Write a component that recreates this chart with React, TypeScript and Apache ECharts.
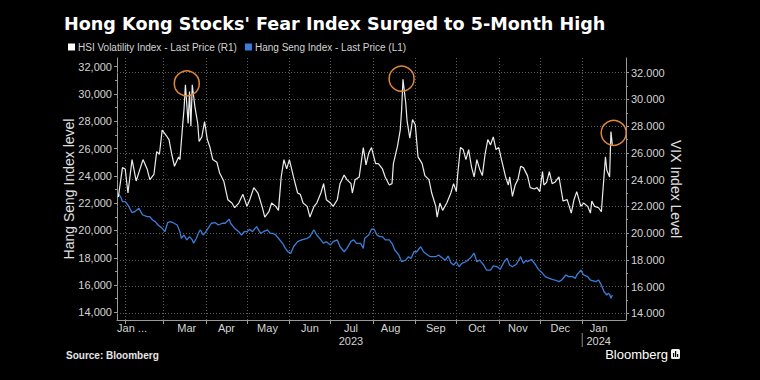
import React, { useEffect, useRef } from 'react';
import * as echarts from 'echarts';

// HSI Volatility Index (right axis)
const vhsiPoints: [string, number][] = [
  ['2023-01-27', 22.7], ['2023-01-30', 24.9], ['2023-02-01', 24.8], ['2023-02-03', 23.0], ['2023-02-06', 25.5], ['2023-02-09', 23.9], ['2023-02-14', 25.5], ['2023-02-17', 24.8], ['2023-02-19', 24.0], ['2023-02-22', 24.4], ['2023-02-24', 26.1], ['2023-02-26', 25.9], ['2023-02-28', 27.7],
  ['2023-03-03', 27.3], ['2023-03-05', 27.0], ['2023-03-07', 25.9], ['2023-03-09', 25.0], ['2023-03-12', 25.7], ['2023-03-13', 25.5], ['2023-03-15', 28.1], ['2023-03-16', 29.3], ['2023-03-17', 31.1], ['2023-03-19', 28.2], ['2023-03-20', 30.6], ['2023-03-21', 28.0], ['2023-03-22', 31.1], ['2023-03-24', 29.4], ['2023-03-26', 28.2], ['2023-03-27', 26.85], ['2023-03-29', 27.2], ['2023-03-31', 28.35],
  ['2023-04-02', 27.0], ['2023-04-04', 26.4], ['2023-04-06', 25.5], ['2023-04-09', 25.3], ['2023-04-11', 24.5], ['2023-04-14', 23.9], ['2023-04-17', 22.5], ['2023-04-20', 22.25], ['2023-04-22', 21.9], ['2023-04-25', 22.25], ['2023-04-28', 22.9],
  ['2023-05-01', 22.0], ['2023-05-03', 22.5], ['2023-05-06', 23.4], ['2023-05-09', 23.0], ['2023-05-12', 22.0], ['2023-05-14', 21.2], ['2023-05-17', 21.6], ['2023-05-19', 22.25], ['2023-05-22', 22.0], ['2023-05-24', 21.7], ['2023-05-26', 24.2], ['2023-05-28', 25.5], ['2023-05-30', 24.8],
  ['2023-06-01', 25.5], ['2023-06-04', 24.2], ['2023-06-07', 23.0], ['2023-06-09', 22.9], ['2023-06-11', 22.25], ['2023-06-14', 22.0], ['2023-06-16', 21.2], ['2023-06-19', 22.0], ['2023-06-21', 22.25], ['2023-06-24', 23.0], ['2023-06-26', 23.7], ['2023-06-28', 22.5],
  ['2023-07-01', 22.25], ['2023-07-03', 22.0], ['2023-07-06', 22.5], ['2023-07-08', 23.7], ['2023-07-11', 24.35], ['2023-07-13', 24.0], ['2023-07-16', 23.7], ['2023-07-17', 23.0], ['2023-07-19', 24.0], ['2023-07-22', 24.2], ['2023-07-25', 26.4], ['2023-07-27', 25.1], ['2023-07-29', 26.0], ['2023-07-31', 26.4],
  ['2023-08-03', 25.2], ['2023-08-05', 25.2], ['2023-08-08', 24.8], ['2023-08-10', 24.2], ['2023-08-13', 23.6], ['2023-08-15', 23.7], ['2023-08-16', 25.2], ['2023-08-19', 26.5], ['2023-08-21', 27.7], ['2023-08-22', 29.2], ['2023-08-23', 31.5], ['2023-08-25', 29.75], ['2023-08-26', 28.4], ['2023-08-28', 27.1], ['2023-08-30', 28.5],
  ['2023-09-01', 28.1], ['2023-09-03', 25.7], ['2023-09-06', 25.2], ['2023-09-08', 24.3], ['2023-09-11', 24.0], ['2023-09-13', 23.0], ['2023-09-16', 22.0], ['2023-09-17', 21.2], ['2023-09-19', 22.25], ['2023-09-21', 21.7], ['2023-09-24', 22.25], ['2023-09-27', 23.0], ['2023-09-29', 23.7],
  ['2023-10-01', 23.1], ['2023-10-02', 24.4], ['2023-10-04', 26.4], ['2023-10-06', 26.25], ['2023-10-08', 25.5], ['2023-10-10', 26.25], ['2023-10-12', 25.0], ['2023-10-14', 24.2], ['2023-10-16', 25.5], ['2023-10-18', 24.8], ['2023-10-20', 24.3], ['2023-10-22', 25.9], ['2023-10-24', 27.0], ['2023-10-26', 26.6], ['2023-10-28', 27.2], ['2023-10-30', 26.25],
  ['2023-11-01', 26.4], ['2023-11-03', 25.5], ['2023-11-06', 24.2], ['2023-11-08', 23.6], ['2023-11-09', 24.2], ['2023-11-11', 22.75], ['2023-11-13', 23.6], ['2023-11-15', 24.0], ['2023-11-17', 25.0], ['2023-11-19', 24.9], ['2023-11-22', 24.3], ['2023-11-24', 23.4], ['2023-11-27', 23.3], ['2023-11-29', 23.4],
  ['2023-12-01', 23.1], ['2023-12-03', 24.6], ['2023-12-04', 23.6], ['2023-12-06', 23.8], ['2023-12-08', 24.6], ['2023-12-10', 23.7], ['2023-12-12', 23.8], ['2023-12-15', 24.2], ['2023-12-17', 23.0], ['2023-12-18', 22.4], ['2023-12-21', 22.5], ['2023-12-24', 21.5], ['2023-12-26', 22.5], ['2023-12-28', 23.1], ['2023-12-31', 22.0],
  ['2024-01-02', 22.25], ['2024-01-05', 22.0], ['2024-01-07', 21.5], ['2024-01-08', 22.4], ['2024-01-10', 22.0], ['2024-01-13', 21.9], ['2024-01-15', 21.6], ['2024-01-16', 23.0], ['2024-01-18', 25.7], ['2024-01-19', 24.7], ['2024-01-21', 24.2], ['2024-01-22', 27.6], ['2024-01-23', 26.6],
];

// Hang Seng Index (left axis)
const hsiPoints: [string, number][] = [
  ['2023-01-27', 22690], ['2023-01-29', 22400], ['2023-01-30', 22110], ['2023-02-01', 22110], ['2023-02-03', 21870], ['2023-02-06', 21305], ['2023-02-08', 21380], ['2023-02-11', 21625], ['2023-02-13', 21255], ['2023-02-14', 21135], ['2023-02-17', 21015], ['2023-02-19', 21015], ['2023-02-21', 20770], ['2023-02-23', 20650], ['2023-02-25', 20400], ['2023-02-28', 20160],
  ['2023-03-02', 19910], ['2023-03-04', 20570], ['2023-03-06', 20650], ['2023-03-08', 20570], ['2023-03-11', 20400], ['2023-03-13', 19910], ['2023-03-14', 19430], ['2023-03-16', 19670], ['2023-03-18', 19310], ['2023-03-20', 19550], ['2023-03-22', 19310], ['2023-03-23', 19060], ['2023-03-25', 19430], ['2023-03-27', 19910], ['2023-03-28', 20040], ['2023-03-30', 19670],
  ['2023-04-01', 19910], ['2023-04-03', 20230], ['2023-04-05', 20530], ['2023-04-08', 20570], ['2023-04-10', 20400], ['2023-04-13', 20530], ['2023-04-15', 20530], ['2023-04-18', 20820], ['2023-04-19', 20530], ['2023-04-22', 20160], ['2023-04-25', 19910], ['2023-04-27', 19670], ['2023-04-29', 19910],
  ['2023-05-01', 19910], ['2023-05-03', 20090], ['2023-05-05', 19910], ['2023-05-08', 20280], ['2023-05-11', 19790], ['2023-05-13', 19910], ['2023-05-16', 20040], ['2023-05-18', 19790], ['2023-05-20', 19790], ['2023-05-22', 19670], ['2023-05-24', 19430], ['2023-05-27', 19060], ['2023-05-29', 18690], ['2023-05-31', 18440],
  ['2023-06-02', 18320], ['2023-06-04', 18810], ['2023-06-07', 19180], ['2023-06-10', 19310], ['2023-06-14', 19430], ['2023-06-16', 19550], ['2023-06-18', 19910], ['2023-06-19', 20040], ['2023-06-21', 19670], ['2023-06-24', 19310], ['2023-06-26', 19060], ['2023-06-28', 19180],
  ['2023-07-01', 18940], ['2023-07-03', 19180], ['2023-07-06', 19310], ['2023-07-08', 18810], ['2023-07-11', 18440], ['2023-07-13', 18690], ['2023-07-16', 19200], ['2023-07-18', 19310], ['2023-07-20', 19060], ['2023-07-23', 19060], ['2023-07-25', 18690], ['2023-07-26', 19430], ['2023-07-29', 19670], ['2023-07-31', 20090],
  ['2023-08-02', 20090], ['2023-08-04', 19670], ['2023-08-06', 19550], ['2023-08-08', 19550], ['2023-08-10', 19310], ['2023-08-13', 19310], ['2023-08-15', 19060], ['2023-08-17', 18570], ['2023-08-20', 18200], ['2023-08-22', 17710], ['2023-08-25', 17830], ['2023-08-27', 18080], ['2023-08-29', 17960], ['2023-08-31', 18440],
  ['2023-09-02', 18440], ['2023-09-05', 18810], ['2023-09-07', 18440], ['2023-09-10', 18200], ['2023-09-12', 18080], ['2023-09-16', 18080], ['2023-09-18', 18200], ['2023-09-21', 17960], ['2023-09-23', 17830], ['2023-09-25', 18130], ['2023-09-27', 17640], ['2023-09-29', 17470],
  ['2023-10-01', 17710], ['2023-10-03', 17340], ['2023-10-05', 17590], ['2023-10-08', 17710], ['2023-10-11', 17960], ['2023-10-14', 18330], ['2023-10-16', 17710], ['2023-10-18', 17830], ['2023-10-21', 17470], ['2023-10-23', 17100], ['2023-10-26', 17100], ['2023-10-28', 17400], ['2023-10-31', 17340],
  ['2023-11-02', 17150], ['2023-11-05', 17710], ['2023-11-07', 17960], ['2023-11-09', 17470], ['2023-11-11', 17340], ['2023-11-14', 17540], ['2023-11-17', 18080], ['2023-11-19', 17590], ['2023-11-21', 17830], ['2023-11-22', 17710], ['2023-11-25', 17880], ['2023-11-28', 17470], ['2023-11-30', 17150],
  ['2023-12-03', 16860], ['2023-12-05', 16620], ['2023-12-08', 16490], ['2023-12-10', 16420], ['2023-12-12', 16370], ['2023-12-15', 16250], ['2023-12-17', 16370], ['2023-12-20', 16740], ['2023-12-22', 16620], ['2023-12-25', 16620], ['2023-12-27', 16490], ['2023-12-28', 16740], ['2023-12-31', 17100],
  ['2024-01-02', 16740], ['2024-01-05', 16620], ['2024-01-07', 16370], ['2024-01-11', 16250], ['2024-01-13', 16370], ['2024-01-15', 16000], ['2024-01-17', 15510], ['2024-01-19', 15270], ['2024-01-20', 15390], ['2024-01-21', 15330], ['2024-01-22', 15030], ['2024-01-23', 15270],
];

const leftTicks = [14000, 16000, 18000, 20000, 22000, 24000, 26000, 28000, 30000, 32000];
const leftMinorTicks = [15000, 17000, 19000, 21000, 23000, 25000, 27000, 29000, 31000];
const rightTicks = [14, 16, 18, 20, 22, 24, 26, 28, 30, 32];
const rightMinorTicks = [15, 17, 19, 21, 23, 25, 27, 29, 31];
const monthStarts = ['2023-02-01', '2023-03-01', '2023-04-01', '2023-05-01', '2023-06-01', '2023-07-01', '2023-08-01', '2023-09-01', '2023-10-01', '2023-11-01', '2023-12-01', '2024-01-01'];
const monthLabelDates = ['2023-02-06', '2023-03-18', '2023-04-16', '2023-05-16', '2023-06-16', '2023-07-16', '2023-08-14', '2023-09-16', '2023-10-16', '2023-11-15', '2023-12-16', '2024-01-13'];
const monthLabels = ['Jan ...', 'Mar', 'Apr', 'May', 'Jun', 'Jul\n2023', 'Aug', 'Sep', 'Oct', 'Nov', 'Dec', 'Jan\n2024'];
const highlightPoints: [string, number][] = [['2023-03-18', 31.2], ['2023-08-22', 31.55], ['2024-01-24', 27.5]];

const ts = (s: string) => {
  const [y, m, d] = s.split('-').map(Number);
  return new Date(y, m - 1, d).getTime();
};

const FONT = '"Liberation Sans", Arial, sans-serif';
const TITLE_FONT = '"DejaVu Sans", "Liberation Sans", sans-serif';
const AXIS_COLOR = '#9a9a9a';
const LABEL_COLOR = '#d4d4d4';

export default function App() {
  const ref = useRef<HTMLDivElement>(null);
  useEffect(() => {
    if (!ref.current) return;
    const chart = echarts.init(ref.current, null, { renderer: 'svg' });
    const labelMap: Record<number, string> = {};
    monthLabelDates.forEach((d, i) => { labelMap[ts(d)] = monthLabels[i]; });

    const option: any = {
      animation: false,
      backgroundColor: '#000',
      textStyle: { fontFamily: FONT },
      title: {
        text: "Hong Kong Stocks' Fear Index Surged to 5-Month High",
        left: 64, top: 15, padding: 0,
        textStyle: { color: '#fff', fontSize: 17.6, fontWeight: 'bold', fontFamily: TITLE_FONT },
      },
      legend: {
        left: 68, top: 42, padding: 0, itemWidth: 7, itemHeight: 7, itemGap: 8, icon: 'rect',
        textStyle: { color: LABEL_COLOR, fontSize: 10, fontFamily: FONT, padding: [0, 0, 0, -2] },
        data: ['HSI Volatility Index - Last Price (R1)', 'Hang Seng Index - Last Price (L1)'],
      },
      grid: { left: 117, right: 134, top: 58, bottom: 60, containLabel: false },
      xAxis: [{
        type: 'value',
        min: ts('2023-01-26'), max: ts('2024-02-02'),
        axisLine: { show: true, lineStyle: { color: AXIS_COLOR } },
        axisTick: { show: true, customValues: monthStarts.map(ts), length: 4, lineStyle: { color: AXIS_COLOR } },
        axisLabel: {
          customValues: monthLabelDates.map(ts),
          formatter: (v: number) => labelMap[v] ?? '',
          color: LABEL_COLOR, fontSize: 11, margin: 1, lineHeight: 13, fontFamily: FONT,
        },
        splitLine: { show: false },
      }],
      yAxis: [
        {
          type: 'value', position: 'left', min: 13440, max: 32640,
          axisLine: { show: true, lineStyle: { color: AXIS_COLOR } },
          axisTick: { show: true, customValues: leftTicks, length: 3, lineStyle: { color: AXIS_COLOR } },
          axisLabel: { customValues: leftTicks, color: LABEL_COLOR, fontSize: 11, margin: 5, fontFamily: FONT },
          splitLine: { show: false },
          name: 'Hang Seng Index level', nameLocation: 'middle', nameGap: 41, nameMoveOverlap: false,
          nameTextStyle: { color: '#e0e0e0', fontSize: 14, fontFamily: FONT },
        },
        {
          type: 'value', position: 'right', min: 13.5, max: 33.1,
          axisLine: { show: true, lineStyle: { color: AXIS_COLOR } },
          axisTick: { show: true, customValues: rightTicks, length: 3, lineStyle: { color: AXIS_COLOR } },
          axisLabel: { customValues: rightTicks, formatter: (v: number) => v.toFixed(3), color: LABEL_COLOR, fontSize: 11, margin: 5, fontFamily: FONT },
          splitLine: { show: false },
          name: 'VIX Index Level', nameLocation: 'middle', nameGap: 43, nameRotate: -90, nameMoveOverlap: false,
          nameTextStyle: { color: '#e0e0e0', fontSize: 14, fontFamily: FONT },
        },
        {
          type: 'value', position: 'left', min: 13440, max: 32640,
          axisLine: { show: false }, axisLabel: { show: false }, splitLine: { show: false },
          axisTick: { show: true, customValues: leftMinorTicks, length: 2, lineStyle: { color: AXIS_COLOR } },
        },
        {
          type: 'value', position: 'right', min: 13.5, max: 33.1,
          axisLine: { show: false }, axisLabel: { show: false }, splitLine: { show: false },
          axisTick: { show: true, customValues: rightMinorTicks, length: 2, lineStyle: { color: AXIS_COLOR } },
        },
      ],
      series: [
        {
          name: 'Hang Seng Index - Last Price (L1)', type: 'line', yAxisIndex: 0, z: 3,
          data: hsiPoints.map(([d, v]) => [ts(d), v]),
          symbol: 'none', lineStyle: { color: '#3b7dd8', width: 1.3 }, itemStyle: { color: '#3b7dd8' },
          markLine: {
            silent: true, symbol: 'none', z: 1, label: { show: false },
            lineStyle: { color: '#5e5e5e', width: 1, type: [1, 2] },
            data: monthStarts.map((d) => ({ xAxis: ts(d) })),
          },
        },
        {
          name: 'HSI Volatility Index - Last Price (R1)', type: 'line', yAxisIndex: 1, z: 4,
          data: vhsiPoints.map(([d, v]) => [ts(d), v]),
          symbol: 'none', lineStyle: { color: '#ececec', width: 1.2 }, itemStyle: { color: '#ffffff' },
          markLine: {
            silent: true, symbol: 'none', z: 1, label: { show: false },
            lineStyle: { color: '#5e5e5e', width: 1, type: [1, 2] },
            data: rightTicks.map((v) => ({ yAxis: v })),
          },
          markPoint: {
            silent: true, symbol: 'circle', symbolSize: 25, label: { show: false },
            itemStyle: { color: 'rgba(0,0,0,0)', borderColor: '#e0883a', borderWidth: 1.5 },
            data: highlightPoints.map(([d, v]) => ({ coord: [ts(d), v] })),
          },
        },
      ],
    };
    chart.setOption(option);

    const sepX = chart.convertToPixel({ xAxisIndex: 0 }, ts('2024-01-01')) as number;
    chart.setOption({
      graphic: [
        { type: 'line', shape: { x1: sepX, y1: 333, x2: sepX, y2: 347 }, style: { stroke: '#8a8a8a', lineWidth: 1 } },
        { type: 'text', left: 66, top: 350, style: { text: 'Source: Bloomberg', fill: '#e6e6e6', font: `bold 10px ${FONT}` } },
        { type: 'text', right: 92, top: 348, style: { text: 'Bloomberg', fill: '#ffffff', font: `13px ${FONT}` } },
        {
          type: 'group', left: 671, top: 349,
          children: [
            { type: 'rect', shape: { x: 0, y: 0, width: 9, height: 10, r: 1.5 }, style: { fill: '#f0f0f0' } },
            { type: 'rect', shape: { x: 2, y: 4, width: 1.2, height: 4 }, style: { fill: '#000' } },
            { type: 'rect', shape: { x: 4, y: 2, width: 1.2, height: 6 }, style: { fill: '#000' } },
            { type: 'rect', shape: { x: 6, y: 5, width: 1.2, height: 3 }, style: { fill: '#000' } },
          ],
        },
      ],
    });
    return () => chart.dispose();
  }, []);
  return <div ref={ref} style={{ position: 'fixed', left: 0, top: 0, width: 760, height: 380, background: '#000' }} />;
}
